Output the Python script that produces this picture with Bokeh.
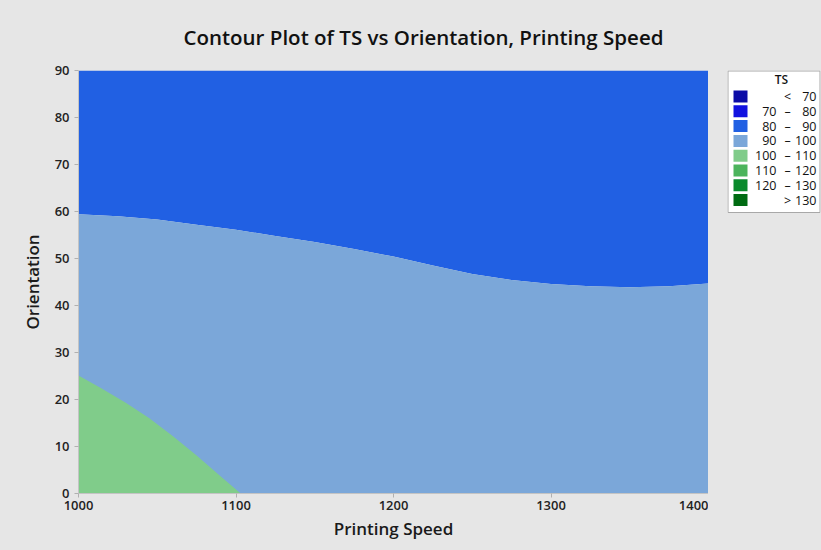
from bokeh.plotting import figure
from bokeh.layouts import row
from bokeh.models import Range1d, FixedTicker
from bokeh.core.properties import value
from bokeh.embed import file_html
from bokeh.resources import INLINE

# Contour boundary between the 80-90 and 90-100 bands (Orientation vs Printing Speed)
speed = [1000, 1025, 1050, 1075, 1100, 1125, 1150, 1175, 1200, 1225,
         1250, 1275, 1300, 1325, 1350, 1375, 1400]
orient_90 = [59.4, 59.0, 58.3, 57.2, 56.1, 54.8, 53.5, 52.0, 50.4, 48.5,
             46.7, 45.4, 44.6, 44.1, 43.9, 44.1, 44.7]

# Contour boundary between the 90-100 and 100-110 bands
speed_100 = [1000, 1015, 1030, 1045, 1060, 1075, 1090, 1103]
orient_100 = [25.1, 22.3, 19.3, 16.0, 12.2, 8.1, 3.7, 0.0]

x_ticks = [1000, 1100, 1200, 1300, 1400]
y_ticks = [0, 10, 20, 30, 40, 50, 60, 70, 80, 90]

# Legend bands
band_lo = ["", "70", "80", "90", "100", "110", "120", ""]
band_sep = ["<", "\u2013", "\u2013", "\u2013", "\u2013", "\u2013", "\u2013", ">"]
band_hi = ["70", "80", "90", "100", "110", "120", "130", "130"]
band_colors = ["#0c0ca6", "#1212e0", "#2160e3", "#7ba7d9",
               "#80cc8a", "#4cb45c", "#0a8a2c", "#006b12"]

BG = "#e6e6e6"
FONT = "Open Sans"
SEMI = "'Open Sans SemiBold', 'Open Sans'"
TOP, BOTTOM = 70, 57

p = figure(width=708, height=550, output_backend="svg", toolbar_location=None,
           x_range=Range1d(1000, 1400), y_range=Range1d(0, 90),
           min_border_left=78, min_border_right=0, min_border_top=TOP,
           min_border_bottom=BOTTOM,
           title="Contour Plot of TS vs Orientation, Printing Speed")
p.background_fill_color = BG
p.border_fill_color = BG
p.outline_line_color = None
p.grid.visible = False

p.title.align = "left"
p.title.text_font = SEMI
p.title.text_font_size = "20.5px"
p.title.text_font_style = "normal"
p.title.text_color = "#111111"
p.title.standoff = 39
p.title.offset = 105

# filled bands
p.varea(x=speed, y1=orient_90, y2=[90] * len(speed), fill_color=band_colors[2])
p.varea(x=speed, y1=[0] * len(speed), y2=orient_90, fill_color=band_colors[3])
p.patch(x=[speed_100[0]] + speed_100, y=[0.0] + orient_100,
        fill_color=band_colors[4], line_color=None)

for ax in (p.xaxis[0], p.yaxis[0]):
    ax.axis_line_color = "#c4c4c4"
    ax.major_tick_line_color = "#b0b0b0"
    ax.major_tick_out = 4
    ax.major_tick_in = 0
    ax.minor_tick_line_color = None
    ax.major_label_text_font = SEMI
    ax.major_label_text_font_size = "13px"
    ax.major_label_text_font_style = "normal"
    ax.major_label_text_color = "#222222"
    ax.axis_label_text_font = SEMI
    ax.axis_label_text_font_size = "17px"
    ax.axis_label_text_font_style = "normal"
    ax.axis_label_text_color = "#1a1a1a"

p.xaxis[0].ticker = FixedTicker(ticks=x_ticks)
p.yaxis[0].ticker = FixedTicker(ticks=y_ticks)
p.xaxis[0].axis_label = "Printing Speed"
p.yaxis[0].axis_label = "Orientation"
p.xaxis[0].major_label_standoff = 3
p.xaxis[0].axis_label_standoff = 4
p.yaxis[0].major_label_standoff = 5
p.yaxis[0].axis_label_standoff = 8

# Legend panel: frame shares the main plot's top/bottom borders,
# its y axis counts pixels downward from the frame top.
frame_h = 550 - TOP - BOTTOM
n = len(band_colors)
leg = figure(width=113, height=550, output_backend="svg", toolbar_location=None,
             x_range=Range1d(0, 93), y_range=Range1d(frame_h, 0),
             min_border_left=19, min_border_right=1, min_border_top=TOP,
             min_border_bottom=BOTTOM)
leg.axis.visible = False
leg.grid.visible = False
leg.background_fill_color = BG
leg.border_fill_color = BG
leg.outline_line_color = None

leg.quad(left=[0.5], right=[92.5], top=[0.5], bottom=[142], fill_color="white",
         line_color="#a8a8a8", line_width=1)

rows_y = [26 + 14.8 * i for i in range(n)]
leg.rect(x=[13] * n, y=rows_y, width=14, height=12, fill_color=band_colors,
         line_color=None)
leg.text(x=[54], y=[9], text=["TS"], text_font=value(SEMI), text_font_size="12px",
         text_align="center", text_baseline="middle", text_color="#111111")
leg.text(x=[49] * n, y=rows_y, text=band_lo, text_font=value(FONT),
         text_font_size="12.5px", text_align="right", text_baseline="middle",
         text_color="#111111")
leg.text(x=[60] * n, y=rows_y, text=band_sep, text_font=value(FONT),
         text_font_size="12.5px", text_align="center", text_baseline="middle",
         text_color="#111111")
leg.text(x=[89] * n, y=rows_y, text=band_hi, text_font=value(FONT),
         text_font_size="12.5px", text_align="right", text_baseline="middle",
         text_color="#111111")

layout = row(p, leg)
layout.styles = {"background-color": BG}
open("out.html", "w").write(file_html(layout, INLINE))
